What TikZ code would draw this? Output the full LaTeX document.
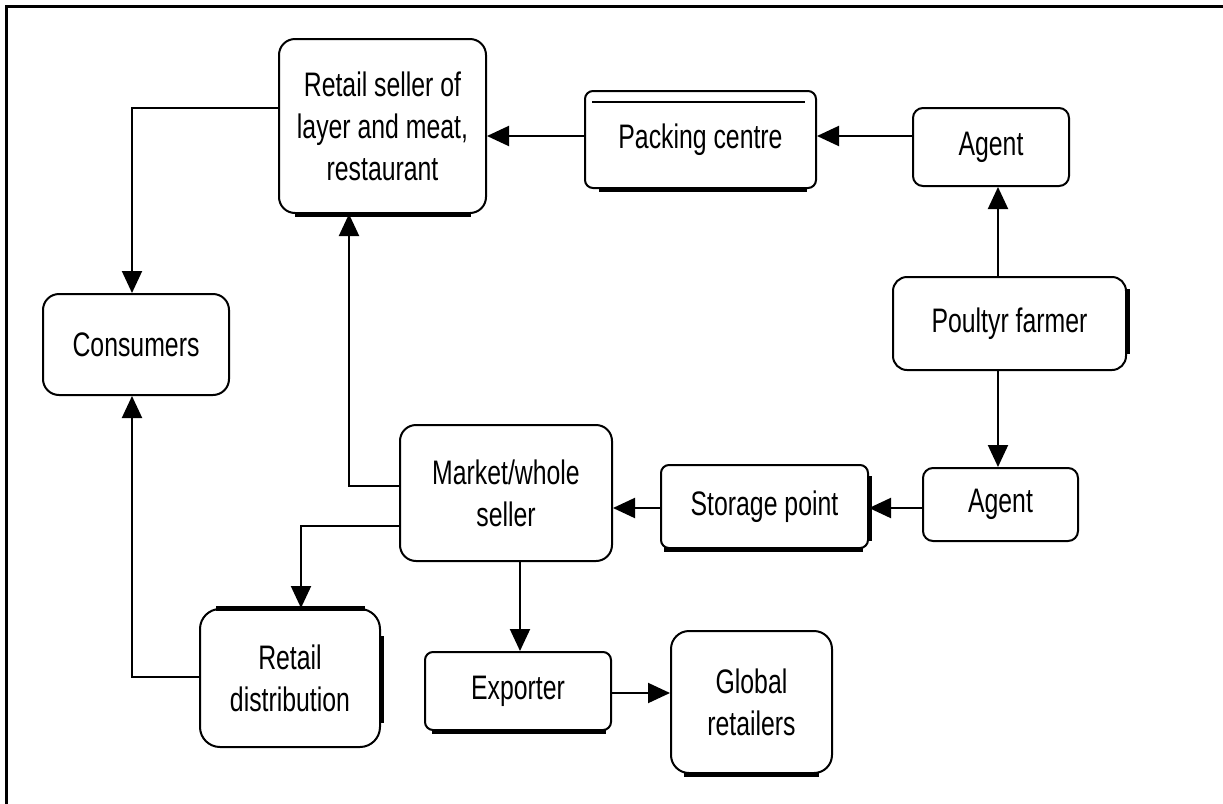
\documentclass[tikz,border=0pt]{standalone}
\usepackage{fontspec}
\setmainfont{Liberation Sans}[FakeStretch=0.73]
\usetikzlibrary{arrows.meta,calc}
\begin{document}
\begin{tikzpicture}[x=0.5pt,y=-0.5pt,
  box/.style={draw,line width=1pt,align=center,inner sep=0pt,
    font=\fontsize{17}{21}\selectfont},
  arr/.style={line width=1pt,-{Triangle[length=11pt,width=10pt]}},
  accent/.style={line width=2.5pt},
  thin/.style={line width=1pt},
  frame/.style={line width=1.5pt}]
\useasboundingbox (0,0) rectangle (1223,804);

% page frame (top and left edges)
\draw[frame] (6,804) -- (6,6) -- (1223,6);

% stages of the chain
\node[box,minimum width=103.5pt,minimum height=87pt,rounded corners=8pt] (rs) at (382.5,126)
  {Retail seller of\\layer and meat,\\restaurant};
\node[box,minimum width=115.5pt,minimum height=48.5pt,rounded corners=4pt] (pack) at (700.5,139.5)
  {Packing centre};
\node[box,minimum width=78pt,minimum height=39pt,rounded corners=5pt] (agt1) at (991,147)
  {Agent};
\node[box,minimum width=116.5pt,minimum height=46.5pt,rounded corners=7pt] (farm) at (1009.5,323.5)
  {Poultyr farmer};
\node[box,minimum width=93pt,minimum height=50.5pt,rounded corners=8pt] (cons) at (136,344.5)
  {Consumers};
\node[box,minimum width=106pt,minimum height=68pt,rounded corners=8pt] (mkt) at (506,493)
  {Market/whole\\seller};
\node[box,minimum width=103.5pt,minimum height=41.5pt,rounded corners=4pt] (stor) at (764.5,506.5)
  {Storage point};
\node[box,minimum width=77.5pt,minimum height=36.5pt,rounded corners=5pt] (agt2) at (1000.5,504.5)
  {Agent};
\node[box,minimum width=90pt,minimum height=69pt,rounded corners=10pt] (rdist) at (290,678)
  {Retail\\distribution};
\node[box,minimum width=93pt,minimum height=39pt,rounded corners=4pt] (exp) at (518,691)
  {Exporter};
\node[box,minimum width=80.5pt,minimum height=71pt,rounded corners=9pt] (glob) at (751.5,702)
  {Global\\retailers};

% heavy edge strokes on some boxes
\draw[accent] ($(rs.south west)+(17,0)$) -- ($(rs.south east)+(-16,0)$);
\draw[thin] ($(pack.north west)+(8,12)$) -- ($(pack.north east)+(-12,12)$);
\draw[accent] ($(pack.south west)+(15,0)$) -- ($(pack.south east)+(-10,0)$);
\draw[accent] ($(farm.north east)+(0,13)$) -- ($(farm.south east)+(0,-17)$);
\draw[accent] ($(stor.south west)+(4,0)$) -- ($(stor.south east)+(-6,0)$);
\draw[accent] ($(stor.north east)+(0,12)$) -- ($(stor.south east)+(0,-8)$);
\draw[accent] ($(rdist.north west)+(17,0)$) -- ($(rdist.north east)+(-16,0)$);
\draw[accent] ($(rdist.north east)+(0,28)$) -- ($(rdist.south east)+(0,-25)$);
\draw[accent] ($(exp.south west)+(8,0)$) -- ($(exp.south east)+(-6,0)$);
\draw[accent] ($(glob.south west)+(14,0)$) -- ($(glob.south east)+(-14,0)$);

% flows
\draw[arr] ($(agt1.west)+(0,-11)$) -- ($(pack.east)+(0,-3.5)$);
\draw[arr] ($(pack.west)+(0,-3.5)$) -- ($(rs.east)+(0,10)$);
\draw[arr] ($(farm.north)+(-11.5,0)$) -- ($(agt1.south)+(7,0)$);
\draw[arr] ($(farm.south)+(-11.5,0)$) -- ($(agt2.north)+(-2.5,0)$);
\draw[arr] ($(agt2.west)+(0,3.5)$) -- ($(stor.east)+(0,1.5)$);
\draw[arr] ($(stor.west)+(0,1.5)$) -- ($(mkt.east)+(0,15)$);
\draw[arr] ($(mkt.west)+(0,-7)$) -| ($(rs.south)+(-33.5,0)$);
\draw[arr] ($(mkt.west)+(0,33)$) -| ($(rdist.north)+(11,0)$);
\draw[arr] ($(mkt.south)+(14,0)$) -- ($(exp.north)+(2,0)$);
\draw[arr] ($(exp.east)+(0,2)$) -- ($(glob.west)+(0,-9)$);
\draw[arr] ($(rdist.west)+(0,-1)$) -| ($(cons.south)+(-4,0)$);
\draw[arr] ($(rs.west)+(0,-18)$) -| ($(cons.north)+(-4,0)$);
\end{tikzpicture}
\end{document}
